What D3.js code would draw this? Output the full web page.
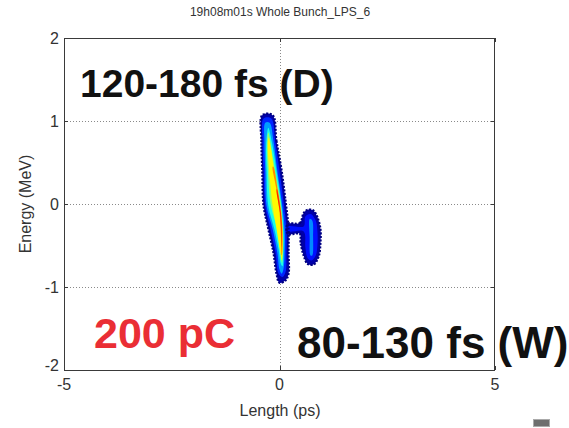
<!DOCTYPE html>
<html>
<head>
<meta charset="utf-8">
<script src="https://cdn.jsdelivr.net/npm/d3@7"></script>
<style>
  html, body { margin: 0; padding: 0; background: #fff; }
  svg { display: block; font-family: "Liberation Sans", Arial, Helvetica, sans-serif; }
</style>
</head>
<body>
<svg id="chart" width="569" height="428"></svg>
<script>
// Longitudinal phase space: length (ps) vs energy (MeV)
const title = "19h08m01s Whole Bunch_LPS_6";
const xLabel = "Length (ps)";
const yLabel = "Energy (MeV)";
const xDomain = [-5, 5];
const yDomain = [-2, 2];
const xTicks = [-5, 0, 5];
const yTicks = [-2, -1, 0, 1, 2];
const xGrid = [0];
const yGrid = [-1, 0, 1];

// Jet colour map stops (normalised density -> colour)
const jetPos = [0, 0.125, 0.375, 0.625, 0.875, 1];
const jetCol = ["#00008f", "#0000ff", "#00ffff", "#ffff00", "#ff0000", "#800000"];

// Density contours of the main bunch, outermost first: [length ps, energy MeV]
const bunchLevels = [0.03, 0.16, 0.28, 0.40, 0.52, 0.63, 0.74, 0.84];
const bunchL1 = [[-0.16,1.07],[-0.07,0.76],[0.05,0.40],[0.14,0.04],[0.21,-0.30],[0.21,-0.59],[0.21,-0.84],[0.14,-0.92],[0.0,-0.95],[-0.07,-0.84],[-0.14,-0.59],[-0.26,-0.30],[-0.37,-0.02],[-0.40,0.40],[-0.42,0.76],[-0.40,1.07]];
const bunchL2 = [[-0.19,1.03],[-0.10,0.76],[0.0,0.40],[0.09,0.04],[0.16,-0.30],[0.16,-0.59],[0.14,-0.82],[0.07,-0.88],[-0.02,-0.84],[-0.09,-0.59],[-0.21,-0.30],[-0.33,-0.02],[-0.37,0.40],[-0.40,0.76],[-0.37,1.03]];
const bunchL3 = [[-0.23,0.98],[-0.14,0.76],[-0.05,0.40],[0.05,0.04],[0.12,-0.30],[0.12,-0.59],[0.09,-0.79],[0.05,-0.84],[0.0,-0.79],[-0.05,-0.59],[-0.16,-0.30],[-0.30,-0.02],[-0.33,0.40],[-0.35,0.76],[-0.33,0.98]];
const bunchL4 = [[-0.26,0.92],[-0.16,0.70],[-0.07,0.40],[0.03,0.04],[0.09,-0.30],[0.09,-0.59],[0.07,-0.75],[0.03,-0.72],[-0.02,-0.55],[-0.12,-0.30],[-0.26,-0.02],[-0.30,0.40],[-0.31,0.70]];
const bunchL5 = [[-0.26,0.86],[-0.15,0.55],[-0.07,0.30],[0.02,0.04],[0.08,-0.30],[0.08,-0.59],[0.06,-0.71],[0.03,-0.62],[-0.05,-0.30],[-0.20,-0.02],[-0.27,0.40],[-0.29,0.72]];
const bunchL6 = [[-0.25,0.80],[-0.12,0.40],[-0.02,0.04],[0.07,-0.30],[0.07,-0.59],[0.05,-0.68],[0.02,-0.59],[-0.07,-0.30],[-0.16,-0.02],[-0.24,0.40],[-0.27,0.70]];
const bunchL7 = [[-0.14,0.45],[-0.05,0.20],[0.04,-0.10],[0.07,-0.35],[0.06,-0.60],[0.05,-0.62],[0.03,-0.35],[0.0,-0.10],[-0.08,0.20],[-0.16,0.45]];
const bunchL8 = [[-0.06,0.18],[0.03,-0.10],[0.055,-0.35],[0.05,-0.52],[0.04,-0.35],[0.01,-0.10],[-0.07,0.16]];
const bunchContours = [bunchL1, bunchL2, bunchL3, bunchL4, bunchL5, bunchL6, bunchL7, bunchL8];

// Trailing satellite and the bridge joining it to the bunch
const satLevels = [0.03, 0.14, 0.26];
const satL1 = [[0.19,-0.24],[0.47,-0.23],[0.56,-0.11],[0.65,-0.07],[0.79,-0.08],[0.88,-0.16],[0.95,-0.30],[0.95,-0.47],[0.91,-0.63],[0.79,-0.73],[0.65,-0.72],[0.56,-0.62],[0.49,-0.47],[0.47,-0.36],[0.19,-0.36]];
const satL2 = [[0.21,-0.27],[0.56,-0.27],[0.60,-0.15],[0.72,-0.12],[0.84,-0.20],[0.88,-0.33],[0.88,-0.50],[0.84,-0.62],[0.74,-0.68],[0.65,-0.65],[0.60,-0.52],[0.56,-0.33],[0.21,-0.33]];
const satL3 = [[0.70,-0.18],[0.76,-0.20],[0.78,-0.40],[0.76,-0.62],[0.72,-0.62],[0.70,-0.40]];
const satContours = [satL1, satL2, satL3];

// Annotations
const noteBunch = "120-180 fs (D)";
const noteSat = "80-130 fs (W)";
const noteCharge = "200 pC";

const svg = d3.select("#chart");
const x = d3.scaleLinear().domain(xDomain).range([64, 495]);
const y = d3.scaleLinear().domain(yDomain).range([370, 38]);
const jet = d3.scaleLinear().domain(jetPos).range(jetCol).interpolate(d3.interpolateRgb);

// title
svg.append("text").attr("x", 280).attr("y", 16).attr("text-anchor", "middle")
  .attr("font-size", 12).attr("fill", "#333").text(title);

// grid lines
const grid = svg.append("g").attr("stroke", "#8a8a8a").attr("stroke-width", 1)
  .attr("stroke-dasharray", "1,2");
grid.selectAll("line.gx").data(xGrid).join("line")
  .attr("x1", d => Math.round(x(d)) + 0.5).attr("x2", d => Math.round(x(d)) + 0.5)
  .attr("y1", y(yDomain[1])).attr("y2", y(yDomain[0]));
grid.selectAll("line.gy").data(yGrid).join("line")
  .attr("y1", d => Math.round(y(d)) + 0.5).attr("y2", d => Math.round(y(d)) + 0.5)
  .attr("x1", x(xDomain[0])).attr("x2", x(xDomain[1]));

// phase space density
const line = d3.line().x(d => x(d[0])).y(d => y(d[1])).curve(d3.curveCatmullRomClosed.alpha(0.5));
const blob = svg.append("g");
bunchContours.forEach((pts, i) => {
  blob.append("path").attr("d", line(pts)).attr("fill", jet(bunchLevels[i]));
});
satContours.forEach((pts, i) => {
  blob.append("path").attr("d", line(pts)).attr("fill", jet(satLevels[i]));
});
// speckled outer edge of the distribution
[bunchL1, satL1].forEach(pts => {
  blob.append("path").attr("d", line(pts)).attr("fill", "none")
    .attr("stroke", "#000080").attr("stroke-width", 2.2).attr("stroke-dasharray", "2,1.5");
});

// axes box
const bx0 = x(xDomain[0]), bx1 = x(xDomain[1]), by0 = y(yDomain[1]), by1 = y(yDomain[0]);
svg.append("rect").attr("x", bx0 + 0.5).attr("y", by0 + 0.5)
  .attr("width", bx1 - bx0 - 1).attr("height", by1 - by0)
  .attr("fill", "none").attr("stroke", "#3a3a3a").attr("stroke-width", 1);

// inward ticks
const tk = svg.append("g").attr("stroke", "#3a3a3a");
tk.selectAll("line.xb").data(xTicks).join("line")
  .attr("x1", d => Math.round(x(d)) + 0.5).attr("x2", d => Math.round(x(d)) + 0.5)
  .attr("y1", by1).attr("y2", by1 - 4);
tk.selectAll("line.xt").data(xTicks).join("line")
  .attr("x1", d => Math.round(x(d)) + 0.5).attr("x2", d => Math.round(x(d)) + 0.5)
  .attr("y1", by0).attr("y2", by0 + 4);
tk.selectAll("line.yl").data(yTicks).join("line")
  .attr("y1", d => Math.round(y(d)) + 0.5).attr("y2", d => Math.round(y(d)) + 0.5)
  .attr("x1", bx0).attr("x2", bx0 + 4);
tk.selectAll("line.yr").data(yTicks).join("line")
  .attr("y1", d => Math.round(y(d)) + 0.5).attr("y2", d => Math.round(y(d)) + 0.5)
  .attr("x1", bx1).attr("x2", bx1 - 4);

// tick labels
svg.append("g").selectAll("text").data(xTicks).join("text")
  .attr("x", d => x(d)).attr("y", by1 + 20).attr("text-anchor", "middle")
  .attr("font-size", 16).attr("fill", "#333").text(d => d);
svg.append("g").selectAll("text").data(yTicks).join("text")
  .attr("x", bx0 - 5).attr("y", d => y(d) + (d === yDomain[0] ? 1 : 6)).attr("text-anchor", "end")
  .attr("font-size", 16).attr("fill", "#333").text(d => d);

// axis labels
svg.append("text").attr("x", 280).attr("y", 416).attr("text-anchor", "middle")
  .attr("font-size", 16).attr("fill", "#333").text(xLabel);
svg.append("text").attr("transform", "translate(31,204) rotate(-90)").attr("text-anchor", "middle")
  .attr("font-size", 16).attr("fill", "#333").text(yLabel);

// annotations
svg.append("text").attr("x", 80).attr("y", 97).attr("font-size", 39).attr("font-weight", "bold")
  .attr("fill", "#111").text(noteBunch);
svg.append("text").attr("x", 94).attr("y", 348).attr("font-size", 43).attr("font-weight", "bold")
  .attr("fill", "#ea2e35").text(noteCharge);
svg.append("text").attr("x", 297).attr("y", 358).attr("font-size", 44).attr("font-weight", "bold")
  .attr("fill", "#111").text(noteSat);

// small toolbar glyph
svg.append("rect").attr("x", 533.5).attr("y", 419.5).attr("width", 16).attr("height", 7)
  .attr("fill", "#6e6e6e").attr("stroke", "#aaa").attr("stroke-width", 1);
</script>
</body>
</html>
